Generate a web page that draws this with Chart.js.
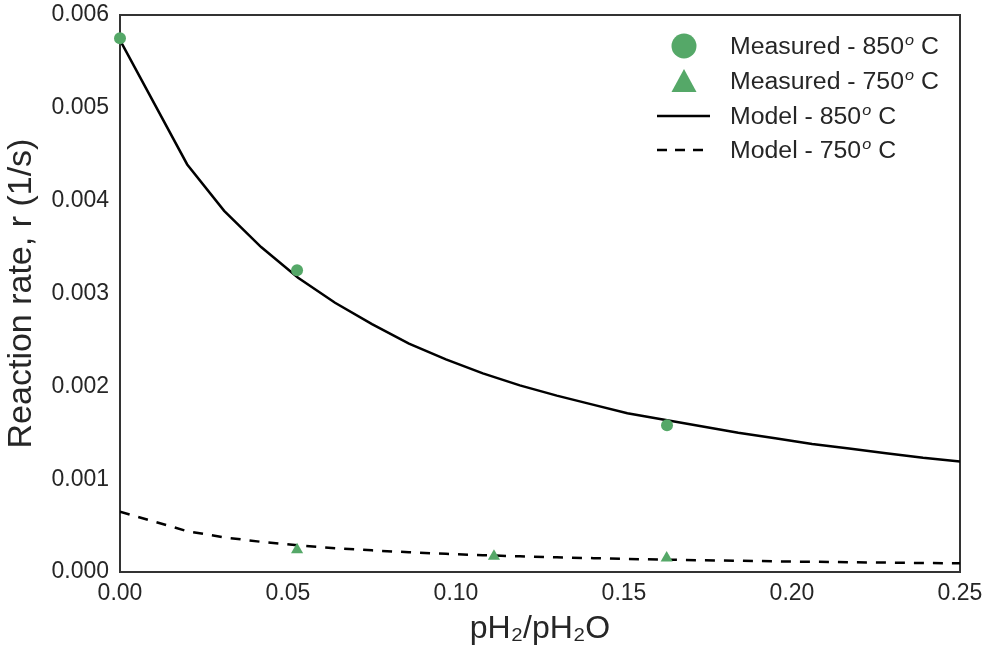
<!DOCTYPE html>
<html>
<head>
<meta charset="utf-8">
<title>Reaction rate</title>
<script src="https://cdn.jsdelivr.net/npm/chart.js@4.4.1/dist/chart.umd.min.js"></script>
<style>
  html, body { margin: 0; padding: 0; background: #fff; }
</style>
</head>
<body>
<canvas id="rateChart" width="989" height="651"></canvas>
<script>
// model curves
var modelX   = [0, 0.020, 0.031, 0.042, 0.053, 0.064, 0.075, 0.086, 0.097, 0.108, 0.119, 0.130,
                0.141, 0.151, 0.162, 0.173, 0.184, 0.195, 0.206, 0.217, 0.228, 0.239, 0.250];
var model850 = [0.00573, 0.00439, 0.00389, 0.00350, 0.00317, 0.00290, 0.00267, 0.00246, 0.00229,
                0.00214, 0.00201, 0.00190, 0.00180, 0.00171, 0.00164, 0.00157, 0.00150, 0.00144,
                0.00138, 0.00133, 0.00128, 0.00123, 0.00119];
var model750 = [0.00065, 0.00044, 0.000373, 0.000325, 0.000287, 0.000257, 0.000233, 0.000213,
                0.000196, 0.000181, 0.000169, 0.000158, 0.000149, 0.000141, 0.000133, 0.000127,
                0.000121, 0.000115, 0.000110, 0.000105, 0.000101, 0.000097, 0.000093];

// measured points
var measX850 = [0, 0.0527, 0.1628];
var meas850  = [0.00575, 0.00325, 0.00158];
var measX750 = [0.0527, 0.1113, 0.1627];
var meas750  = [0.00024, 0.00017, 0.00015];

var legendNames = ["Measured - 850", "Measured - 750", "Model - 850", "Model - 750"];
var yTicks = [0, 0.001, 0.002, 0.003, 0.004, 0.005, 0.006];
var xTicks = [0, 0.05, 0.10, 0.15, 0.20, 0.25];

var green = "#55a868";
var ink = "#262626";
var fontName = "'Liberation Sans', Arial, sans-serif";

function pairs(xs, ys) {
  return xs.map(function(x, i) { return { x: x, y: ys[i] }; });
}

Chart.defaults.font.family = fontName;
Chart.defaults.color = ink;

// box around the plot area
var framePlugin = {
  id: "frame",
  beforeDatasetsDraw: function(chart) {
    var a = chart.chartArea, ctx = chart.ctx;
    ctx.save();
    ctx.strokeStyle = "#333";
    ctx.lineWidth = 2;
    ctx.strokeRect(a.left, a.top, a.right - a.left, a.bottom - a.top);
    ctx.restore();
  }
};

// legend inside the plot, top right, with superscript "o"
var legendPlugin = {
  id: "insideLegend",
  afterDraw: function(chart) {
    var ctx = chart.ctx, a = chart.chartArea;
    var mx = a.right - 276, tx = a.right - 230;
    var rows = [a.top + 31, a.top + 66, a.top + 101, a.top + 135];
    ctx.save();
    ctx.fillStyle = green;
    ctx.beginPath();
    ctx.arc(mx, rows[0], 12.5, 0, Math.PI * 2);
    ctx.fill();
    ctx.beginPath();
    ctx.moveTo(mx, rows[1] - 12);
    ctx.lineTo(mx + 12.5, rows[1] + 11);
    ctx.lineTo(mx - 12.5, rows[1] + 11);
    ctx.closePath();
    ctx.fill();
    ctx.strokeStyle = "#000";
    ctx.lineWidth = 2.5;
    ctx.beginPath();
    ctx.moveTo(mx - 27, rows[2]);
    ctx.lineTo(mx + 26, rows[2]);
    ctx.stroke();
    ctx.setLineDash([10, 8]);
    ctx.beginPath();
    ctx.moveTo(mx - 27, rows[3]);
    ctx.lineTo(mx + 26, rows[3]);
    ctx.stroke();
    ctx.setLineDash([]);

    ctx.fillStyle = ink;
    ctx.textBaseline = "alphabetic";
    for (var i = 0; i < legendNames.length; i++) {
      ctx.save();
      ctx.translate(tx, rows[i] + 8);
      ctx.scale(1.08, 1);
      ctx.font = "23px " + fontName;
      ctx.fillText(legendNames[i], 0, 0);
      var w = ctx.measureText(legendNames[i]).width;
      ctx.font = "italic 15px " + fontName;
      ctx.fillText("o", w + 1, -9);
      var w2 = ctx.measureText("o").width;
      ctx.font = "23px " + fontName;
      ctx.fillText(" C", w + w2 + 1, 0);
      ctx.restore();
    }
    ctx.restore();
  }
};

var ctx = document.getElementById("rateChart");
var rateChart = new Chart(ctx, {
  type: "scatter",
  data: {
    datasets: [
      {
        label: legendNames[0],
        data: pairs(measX850, meas850),
        backgroundColor: green,
        borderWidth: 0,
        pointRadius: 6,
        pointHoverRadius: 6,
        clip: false,
        order: 0
      },
      {
        label: legendNames[1],
        data: pairs(measX750, meas750),
        pointStyle: "triangle",
        backgroundColor: green,
        borderWidth: 0,
        pointRadius: 7,
        pointHoverRadius: 7,
        clip: false,
        order: 0
      },
      {
        type: "line",
        label: legendNames[2],
        data: pairs(modelX, model850),
        borderColor: "#000",
        borderWidth: 2.5,
        pointRadius: 0,
        tension: 0,
        fill: false,
        order: 1
      },
      {
        type: "line",
        label: legendNames[3],
        data: pairs(modelX, model750),
        borderColor: "#000",
        borderWidth: 2.5,
        borderDash: [10, 9],
        pointRadius: 0,
        tension: 0,
        fill: false,
        order: 1
      }
    ]
  },
  options: {
    responsive: false,
    animation: false,
    layout: { padding: { left: 0, top: 15, right: 29, bottom: 0 } },
    plugins: {
      legend: { display: false },
      tooltip: { enabled: false }
    },
    scales: {
      x: {
        type: "linear",
        min: 0,
        max: 0.25,
        grid: { display: false, drawTicks: false },
        border: { display: false },
        afterBuildTicks: function(scale) {
          scale.ticks = xTicks.map(function(v) { return { value: v }; });
        },
        ticks: {
          padding: 8,
          color: ink,
          font: { size: 23 },
          maxRotation: 0,
          callback: function(v) { return v.toFixed(2); }
        },
        title: {
          display: true,
          text: "pH\u2082/pH\u2082O",
          color: ink,
          font: { size: 32 },
          padding: { top: 0, bottom: 3 }
        },
        afterFit: function(scale) {
          scale.height = 79;
          scale.paddingLeft = 0;
          scale.paddingRight = 0;
        }
      },
      y: {
        type: "linear",
        min: 0,
        max: 0.006,
        grid: { display: false, drawTicks: false },
        border: { display: false },
        afterBuildTicks: function(scale) {
          scale.ticks = yTicks.map(function(v) { return { value: v }; });
        },
        ticks: {
          padding: 11,
          color: ink,
          font: { size: 23 },
          callback: function(v) { return v.toFixed(3); }
        },
        title: {
          display: true,
          text: "Reaction rate, r (1/s)",
          color: ink,
          font: { size: 34 },
          padding: { top: 1, bottom: 0 }
        },
        afterFit: function(scale) {
          scale.width = 120;
          scale.paddingTop = 0;
          scale.paddingBottom = 0;
        }
      }
    }
  },
  plugins: [framePlugin, legendPlugin]
});
</script>
</body>
</html>
